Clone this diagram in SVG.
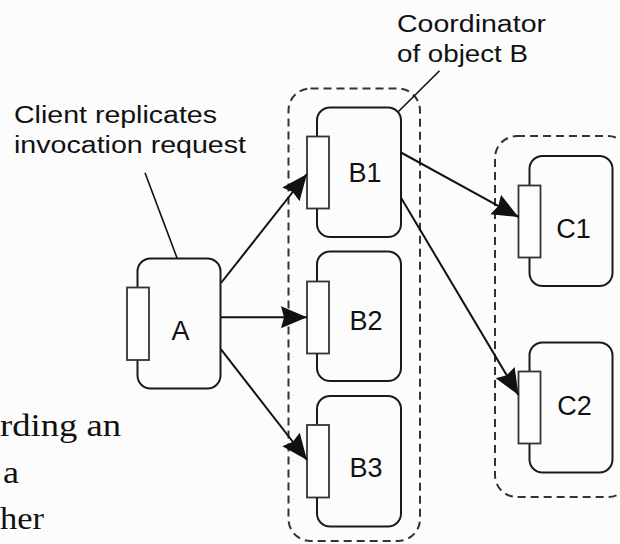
<svg xmlns="http://www.w3.org/2000/svg" width="620" height="544" viewBox="0 0 620 544">
  <defs>
    <marker id="arrow" markerUnits="userSpaceOnUse" markerWidth="27" markerHeight="23" refX="26" refY="11" orient="auto">
      <path d="M0,0 L26,11 L0,22 L3,11 Z" fill="#111"/>
    </marker>
    <style>
      .box { fill: none; stroke: #1a1a1a; stroke-width: 2; }
      .port { fill: #fdfdfd; stroke: #333; stroke-width: 1.8; }
      .group { fill: none; stroke: #333; stroke-width: 2; stroke-dasharray: 8 5; }
      .lbl { font-family: "Liberation Sans", Arial, sans-serif; font-size: 27px; fill: #111; text-anchor: middle; }
      .note { font-family: "Liberation Sans", Arial, sans-serif; font-size: 23.5px; fill: #111; }
      .serif { font-family: "Liberation Serif", "Times New Roman", serif; font-size: 32px; fill: #111; }
      .edge { stroke: #111; stroke-width: 2; fill: none; }
      .leader { stroke: #111; stroke-width: 1.6; fill: none; }
    </style>
  </defs>
  <rect x="0" y="0" width="620" height="544" fill="#fcfcfc"/>

  <g id="group-B">
    <rect class="group" x="288.5" y="88.5" width="131.5" height="452.5" rx="22"/>
  </g>
  <g id="group-C">
    <rect class="group" x="495" y="136" width="135" height="361" rx="22"/>
  </g>

  <g id="node-A">
    <rect class="box" x="137.5" y="258.5" width="83" height="130" rx="13"/>
    <rect class="port" x="127" y="287.5" width="22" height="72.5"/>
    <text class="lbl" x="180.5" y="340">A</text>
  </g>
  <g id="node-B1">
    <rect class="box" x="317" y="107.5" width="84" height="129.5" rx="13"/>
    <rect class="port" x="307" y="136.5" width="22" height="72"/>
    <text class="lbl" x="365" y="181.7">B1</text>
  </g>
  <g id="node-B2">
    <rect class="box" x="317" y="251.5" width="84" height="129.5" rx="13"/>
    <rect class="port" x="307" y="281.5" width="22" height="72"/>
    <text class="lbl" x="366" y="330.3">B2</text>
  </g>
  <g id="node-B3">
    <rect class="box" x="317" y="396" width="84" height="130.5" rx="13"/>
    <rect class="port" x="307" y="425" width="22" height="72.5"/>
    <text class="lbl" x="366" y="476.7">B3</text>
  </g>
  <g id="node-C1">
    <rect class="box" x="529.5" y="156" width="83" height="130" rx="13"/>
    <rect class="port" x="518.5" y="185.5" width="22" height="72"/>
    <text class="lbl" x="573.5" y="238.3">C1</text>
  </g>
  <g id="node-C2">
    <rect class="box" x="529.5" y="342.5" width="83" height="130" rx="13"/>
    <rect class="port" x="518.5" y="371.5" width="22" height="72"/>
    <text class="lbl" x="574.5" y="415">C2</text>
  </g>

  <g id="connectors">
    <line class="edge" x1="221" y1="283" x2="307" y2="174" marker-end="url(#arrow)"/>
    <line class="edge" x1="221" y1="317.3" x2="307" y2="317.3" marker-end="url(#arrow)"/>
    <line class="edge" x1="221" y1="349.3" x2="307" y2="460" marker-end="url(#arrow)"/>
    <line class="edge" x1="401" y1="152.5" x2="518.5" y2="217" marker-end="url(#arrow)"/>
    <line class="edge" x1="401" y1="197.7" x2="518.5" y2="395" marker-end="url(#arrow)"/>
    <line class="leader" x1="145" y1="172.7" x2="177.3" y2="258.7"/>
    <line class="leader" x1="439.5" y1="70.7" x2="398.5" y2="111.5"/>
  </g>

  <g id="annotations">
    <text class="note" x="14" y="123.3" textLength="203" lengthAdjust="spacingAndGlyphs">Client replicates</text>
    <text class="note" x="14" y="153.3" textLength="232" lengthAdjust="spacingAndGlyphs">invocation request</text>
    <text class="note" x="397" y="32.3" textLength="149" lengthAdjust="spacingAndGlyphs">Coordinator</text>
    <text class="note" x="397" y="62.3" textLength="131" lengthAdjust="spacingAndGlyphs">of object B</text>
  </g>

  <g id="page-text">
    <text class="serif" x="0" y="435.7" textLength="121" lengthAdjust="spacingAndGlyphs">rding an</text>
    <text class="serif" x="3" y="483.3" textLength="16" lengthAdjust="spacingAndGlyphs">a</text>
    <text class="serif" x="0" y="529" textLength="44" lengthAdjust="spacingAndGlyphs">her</text>
  </g>
</svg>
